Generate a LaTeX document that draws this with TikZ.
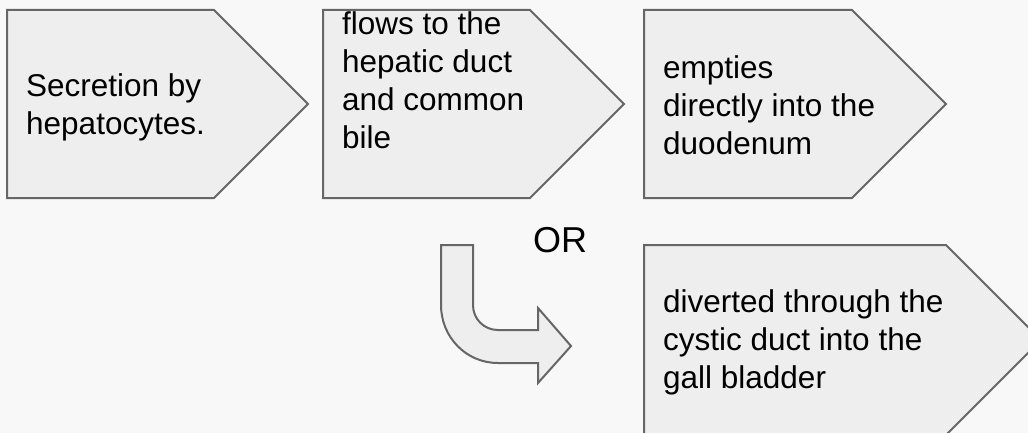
\documentclass[tikz,border=0pt]{standalone}
\usepackage{fontspec}
\setmainfont{Liberation Sans}
\definecolor{pagegray}{HTML}{F8F8F8}
\definecolor{boxfill}{HTML}{EEEEEE}
\definecolor{boxline}{HTML}{666666}
\tikzset{
chevronbox/.style={fill=boxfill,draw=boxline,line width=2pt,line join=miter},
boxtext/.style={anchor=base west,inner sep=0pt,align=left,
  font=\fontsize{31.5}{38}\selectfont},
ortext/.style={inner sep=0pt,font=\fontsize{36}{43}\selectfont}
}

\begin{document}
\begin{tikzpicture}[x=1pt,y=-1pt]
\fill[pagegray] (0,0) rectangle (1028,433);
\useasboundingbox (0,0) rectangle (1028,433);
% the step chevrons
\foreach \l/\p/\t in {7/214/308,323/530/624,644/852/946}
{
  \draw[chevronbox]
    (\l,10) -- (\p,10) -- (\t,104) -- (\p,198) -- (\l,198) -- cycle;
  }
\draw[chevronbox]
    (644,245) -- (946,245) -- (1041,340) -- (946,435) -- (644,435) -- cycle;
% the bent arrow
\draw[chevronbox]
    (441,245) -- (473,245) -- (473,305)
    .. controls (473,319) and (484,330) .. (498,330)
    -- (538,330) -- (538,308) -- (571,346) -- (538,383) -- (538,363)
    -- (498,363) .. controls (466,363) and (441,337) .. (441,305) -- cycle;
% text sits on the baseline of its last line
\node[boxtext] (secretion) at (26,135) {Secretion by\\hepatocytes.};
\node[boxtext] (flows) at (342,149) {flows to the\\hepatic duct\\and common\\bile};
\node[boxtext] (empties) at (663,154) {empties\\directly into the\\duodenum};
\node[boxtext] (diverted) at (663,388) {diverted through the\\cystic duct into the\\gall bladder};
\node[ortext] (or) at (560,240) {OR};
\end{tikzpicture}
\end{document}
